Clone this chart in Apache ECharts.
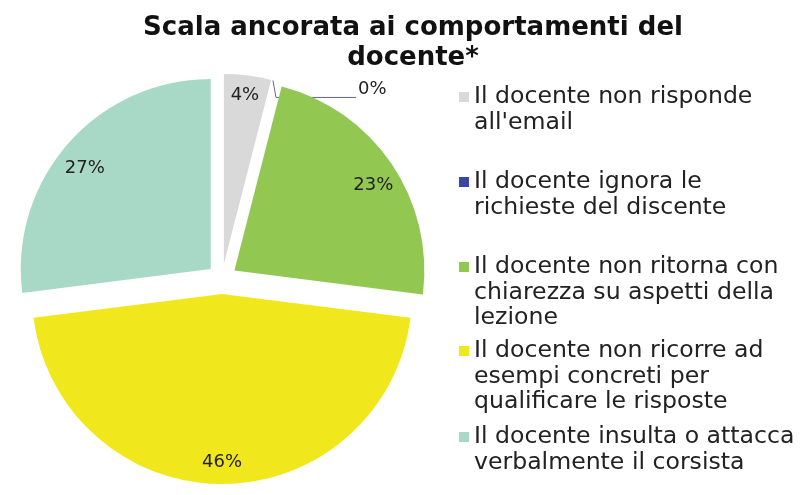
<!DOCTYPE html>
<html>
<head>
<meta charset="utf-8">
<script src="https://cdn.jsdelivr.net/npm/echarts@6/dist/echarts.min.js"></script>
<style>
  html, body { margin: 0; padding: 0; background: #fff; }
  #main { width: 800px; height: 495px; }
</style>
</head>
<body>
<div id="main"></div>
<script>
var categories = [
    "Il docente non risponde all'email",
    'Il docente ignora le richieste del discente',
    'Il docente non ritorna con chiarezza su aspetti della lezione',
    'Il docente non ricorre ad esempi concreti per qualificare le risposte',
    'Il docente insulta o attacca verbalmente il corsista'
];
// legend text, wrapped the way the original shows it
var legendLabels = [
    "Il docente non risponde\nall'email",
    'Il docente ignora le\nrichieste del discente',
    'Il docente non ritorna con\nchiarezza su aspetti della\nlezione',
    'Il docente non ricorre ad\nesempi concreti per\nqualificare le risposte',
    'Il docente insulta o attacca\nverbalmente il corsista'
];
var percentages = [4, 0, 23, 46, 27];
var colors = ['#D9D9D9', '#3B47A8', '#92C852', '#F0E81C', '#A8D9C6'];

var myChart = echarts.init(document.getElementById('main'));

var center = [222, 279];
var LH = 25.5;
var legendCenters = [97, 182, 267, 351, 437];
// small vertical nudges of the % labels (Excel "best fit" look);
// for the 0% label it is how far the leader line end drops
var labelNudge = [-2, 17, 9, 0, 10];

var pieData = categories.map(function (name, i) {
    return {
        name: name,
        value: percentages[i],
        selected: true,
        itemStyle: { color: colors[i] }
    };
});

// transparent ring on top, only there to put the % labels near the rim
var labelData = categories.map(function (name, i) {
    var item = {
        name: name,
        value: percentages[i],
        selected: true
    };
    if (percentages[i] === 0) {
        item.label = { position: 'outside' };
        item.labelLine = { show: true, length: 0, length2: 80 };
    }
    return item;
});

var legends = categories.map(function (name, i) {
    var n = legendLabels[i].split('\n').length;
    // leading blank lines keep the icon level with the first line
    var text = new Array(n).join('\n') + legendLabels[i];
    return {
        data: [name],
        left: 459,
        top: legendCenters[i] - (2 * n - 1) * LH / 2,
        padding: 0,
        icon: 'rect',
        itemWidth: 10,
        itemHeight: 10,
        selectedMode: false,
        formatter: function () { return text; },
        textStyle: {
            fontFamily: 'DejaVu Sans',
            fontSize: 23.6,
            lineHeight: LH,
            color: '#222'
        }
    };
});

var option = {
    animation: false,
    title: {
        text: 'Scala ancorata ai comportamenti del\ndocente*',
        left: 413,
        top: 13,
        textAlign: 'center',
        padding: 0,
        textStyle: {
            fontFamily: 'DejaVu Sans',
            fontWeight: 'bold',
            fontSize: 26,
            lineHeight: 30,
            color: '#111'
        }
    },
    legend: legends,
    series: [
        {
            type: 'pie',
            center: center,
            radius: [0, 190],
            startAngle: 90,
            clockwise: true,
            selectedMode: 'multiple',
            selectedOffset: 15,
            silent: true,
            label: { show: false },
            labelLine: { show: false },
            emphasis: { disabled: true },
            data: pieData
        },
        {
            type: 'pie',
            center: center,
            radius: [140, 190],
            startAngle: 90,
            clockwise: true,
            selectedMode: 'multiple',
            selectedOffset: 15,
            silent: true,
            avoidLabelOverlap: false,
            itemStyle: { color: 'rgba(0,0,0,0)' },
            label: {
                show: true,
                position: 'inside',
                formatter: function (p) {
                    // the 0% label sits a line lower than its leader line
                    return (p.value === 0 ? '\n' : '') + p.value + '%';
                },
                fontFamily: 'DejaVu Sans',
                fontSize: 18,
                color: '#222'
            },
            labelLine: {
                show: false,
                lineStyle: { color: '#5A6A8A', width: 1 }
            },
            labelLayout: function (params) {
                var i = params.dataIndex;
                var r = params.labelRect;
                if (percentages[i] === 0) {
                    // only the leader line end follows this
                    return {
                        x: r.x - 2,
                        y: r.y + r.height / 2 + labelNudge[i],
                        align: 'left',
                        verticalAlign: 'middle'
                    };
                }
                return { dy: labelNudge[i] };
            },
            emphasis: { disabled: true },
            data: labelData
        }
    ]
};
myChart.setOption(option);
</script>
</body>
</html>
